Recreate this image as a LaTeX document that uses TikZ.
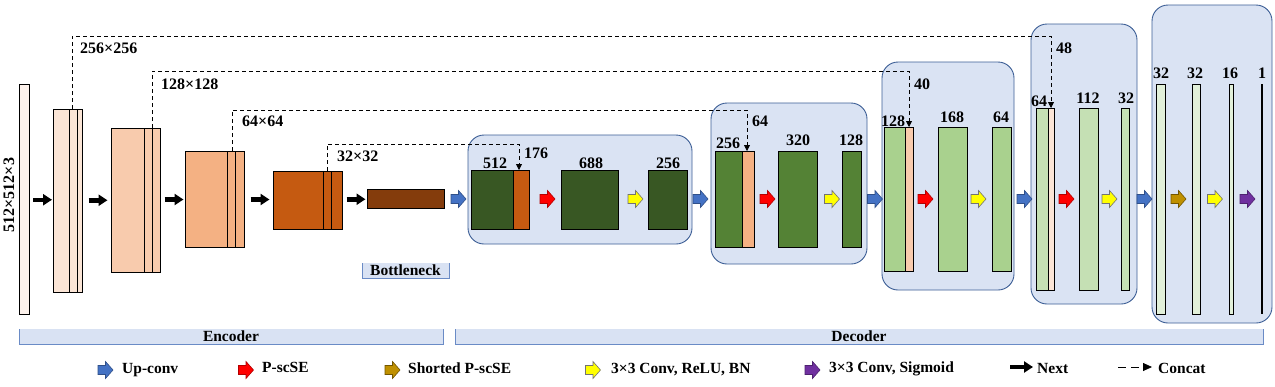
\documentclass[tikz,border=0pt]{standalone}
\usepackage{fontspec}
\setmainfont{Liberation Serif}
\usetikzlibrary{arrows.meta,calc}
\definecolor{encA}{HTML}{FDF2EC}
\definecolor{encB}{HTML}{FBE5D6}
\definecolor{encC}{HTML}{F8CBAD}
\definecolor{encD}{HTML}{F4B183}
\definecolor{encE}{HTML}{C55A11}
\definecolor{encF}{HTML}{843C0C}
\definecolor{decA}{HTML}{385723}
\definecolor{decB}{HTML}{548235}
\definecolor{decC}{HTML}{A9D18E}
\definecolor{decD}{HTML}{C5E0B4}
\definecolor{decE}{HTML}{E2F0D9}
\definecolor{stagefill}{HTML}{DAE3F3}
\definecolor{stageline}{HTML}{3D5F96}
\definecolor{barfill}{HTML}{D9E2F3}
\definecolor{barline}{HTML}{6A8BC6}
\definecolor{upblue}{HTML}{4472C4}
\definecolor{psred}{HTML}{FF0000}
\definecolor{shbrown}{HTML}{BF9000}
\definecolor{cvyellow}{HTML}{FFFF00}
\definecolor{sgpurple}{HTML}{7030A0}
\newcommand{\blk}[6]{\node[blk,fill=#6,minimum width={#4-#2},minimum height={#5-#3}] (#1) at ({(#2+#4)/2},{(#3+#5)/2}) {};}
\newcommand{\barr}[4]{\coordinate (#1) at (#2,#3); \pic[#4] at (#1) {blockarrow};}
\tikzset{
  blk/.style={draw=black, line width=0.8pt, inner sep=0pt, outer sep=0pt},
  thinl/.style={draw=black, line width=0.8pt},
  stage/.style={draw=stageline, fill=stagefill, line width=0.9pt, rounded corners=16pt, inner sep=0pt, outer sep=0pt},
  bar/.style={fill=barfill, inner sep=0pt, outer sep=0pt, font=\fontsize{15.5}{18}\selectfont\bfseries},
  barside/.style={draw=barline, line width=0.9pt},
  blockarrow/.pic={\path[pic actions] (-7.5,-4.5) -- (0,-4.5) -- (0,-8.5) -- (7.5,0) -- (0,8.5) -- (0,4.5) -- (-7.5,4.5) -- cycle;},
  upc/.style={fill=upblue, draw=upblue!70!black, line width=0.6pt},
  psc/.style={fill=psred, draw=psred!70!black, line width=0.6pt},
  shb/.style={fill=shbrown, draw=shbrown!60!black, line width=0.6pt},
  cvy/.style={fill=cvyellow, draw=black!55, line width=0.6pt},
  sgp/.style={fill=sgpurple, draw=sgpurple!70!black, line width=0.6pt},
  nextarr/.style={line width=4.5pt, -{Triangle[width=11pt,length=9pt]}},
  concat/.style={dash pattern=on 4pt off 3pt, line width=0.8pt, -{Triangle[width=6pt,length=6pt]}},
  lab/.style={font=\fontsize{16}{19}\selectfont\bfseries, inner sep=0pt},
  leg/.style={font=\fontsize{15.5}{18}\selectfont\bfseries, inner sep=0pt, anchor=base west}
}
\begin{document}
\begin{tikzpicture}[x=1pt,y=-1pt]
\useasboundingbox (0,0) rectangle (1275,386);
\fill[white] (0,0) rectangle (1275,386);

% decoder stage boxes
\node[stage, minimum width=224, minimum height=109] (s1) at (580,189.5) {};
\node[stage, minimum width=156, minimum height=161] (s2) at (789,183.5) {};
\node[stage, minimum width=132, minimum height=228] (s3) at (948,176) {};
\node[stage, minimum width=106, minimum height=280] (s4) at (1084,164) {};
\node[stage, minimum width=120, minimum height=318] (s5) at (1212,164) {};

% encoder
\blk{in}{19}{84}{29}{314}{encA}
\blk{b1}{53}{109}{82}{292}{encB}
\blk{b2}{111}{128}{160}{272}{encC}
\blk{b3}{185}{151}{244}{247}{encD}
\blk{b4}{273}{171}{342}{229}{encE}
\blk{bn}{367}{189}{444}{208}{encF}
\draw[thinl] ($(b1.north east)+(-13,0)$) -- ($(b1.south east)+(-13,0)$);
\draw[thinl] ($(b1.north east)+(-5,0)$) -- ($(b1.south east)+(-5,0)$);
\draw[thinl] ($(b2.north east)+(-16,0)$) -- ($(b2.south east)+(-16,0)$);
\draw[thinl] ($(b2.north east)+(-8,0)$) -- ($(b2.south east)+(-8,0)$);
\draw[thinl] ($(b3.north east)+(-17,0)$) -- ($(b3.south east)+(-17,0)$);
\draw[thinl] ($(b3.north east)+(-9,0)$) -- ($(b3.south east)+(-9,0)$);
\draw[thinl] ($(b4.north east)+(-19,0)$) -- ($(b4.south east)+(-19,0)$);
\draw[thinl] ($(b4.north east)+(-11,0)$) -- ($(b4.south east)+(-11,0)$);

\node[lab, rotate=90] (inlab) at (9,195) {512×512×3};

% next arrows
\draw[nextarr] ($(in.east)!0.5!(b1.west)+(-8,0)$) -- ++(19,0);
\draw[nextarr] ($(b1.east)!0.5!(b2.west)+(-8,0)$) -- ++(19,0);
\draw[nextarr] ($(b2.east)!0.5!(b3.west)+(-8,0)$) -- ++(19,0);
\draw[nextarr] ($(b3.east)!0.5!(b4.west)+(-8,0)$) -- ++(19,0);
\draw[nextarr] ($(b4.east)!0.5!(bn.west)+(-8,0)$) -- ++(19,0);

% decoder stage 1
\blk{d1a}{471}{170}{513}{229}{decA}
\blk{d1c}{513}{170}{529}{229}{encE}
\blk{d1b}{561}{170}{618}{229}{decA}
\blk{d1d}{648}{170}{687}{229}{decA}
% stage 2
\blk{d2a}{715}{151}{742}{247}{decB}
\blk{d2c}{742}{151}{754}{247}{encD}
\blk{d2b}{778}{151}{817}{247}{decB}
\blk{d2d}{842}{151}{861}{247}{decB}
% stage 3
\blk{d3a}{884}{127}{905}{271}{decC}
\blk{d3c}{905}{127}{913}{271}{encC}
\blk{d3b}{938}{127}{967}{271}{decC}
\blk{d3d}{992}{127}{1011}{271}{decC}
% stage 4
\blk{d4a}{1036}{108}{1048}{290}{decD}
\blk{d4c}{1048}{108}{1054}{290}{encB}
\blk{d4b}{1079}{108}{1098}{290}{decD}
\blk{d4d}{1121}{108}{1129}{290}{decD}
% stage 5
\blk{d5a}{1156}{84}{1165}{314}{decE}
\blk{d5b}{1192}{84}{1200}{314}{decE}
\blk{d5c}{1229}{84}{1233}{314}{decE}
\node[fill=black, inner sep=0pt, minimum width=2, minimum height=230] (d5d) at (1262,199) {};

% concat dashed connectors
\draw[concat] ($(b1.north east)+(-10,0)$) -- ++(0,-73) -| (d4c.north);
\draw[concat] ($(b2.north east)+(-8,0)$) -- ++(0,-57) -| (d3c.north);
\draw[concat] ($(b3.north east)+(-12,0)$) -- ++(0,-41) -| ($(d2c.north)+(-1,0)$);
\draw[concat] ($(b4.north east)+(-15,0)$) -- ++(0,-27) -| ($(d1c.north)+(-2,0)$);

\node[lab, anchor=base west] (t256) at (80,53) {256×256};
\node[lab, anchor=base west] (t128) at (161,89) {128×128};
\node[lab, anchor=base west] (t64) at (242,126) {64×64};
\node[lab, anchor=base west] (t32) at (337,161) {32×32};

% block arrows
\barr{u1}{458.5}{199}{upc}
\barr{p1}{547.5}{199}{psc}
\barr{c1}{635.5}{199}{cvy}
\barr{u2}{700.5}{199}{upc}
\barr{p2}{767.5}{199}{psc}
\barr{c2}{832}{199}{cvy}
\barr{u3}{875}{199}{upc}
\barr{p3}{925.5}{199}{psc}
\barr{c3}{978.5}{199}{cvy}
\barr{u4}{1024.5}{199}{upc}
\barr{p4}{1066.5}{199}{psc}
\barr{c4}{1109.5}{199}{cvy}
\barr{u5}{1144.5}{199}{upc}
\barr{h5}{1178.5}{199}{shb}
\barr{c5}{1215}{199}{cvy}
\barr{g5}{1247.5}{199}{sgp}

% channel labels
\node[lab, anchor=base] (l512) at (495,168) {512};
\node[lab, anchor=base] (l176) at (536,158) {176};
\node[lab, anchor=base] (l688) at (591,168) {688};
\node[lab, anchor=base] (l256a) at (668,168) {256};
\node[lab, anchor=base] (l256b) at (728,148) {256};
\node[lab, anchor=base] (l64a) at (760,126) {64};
\node[lab, anchor=base] (l320) at (798,145) {320};
\node[lab, anchor=base] (l128a) at (851,145) {128};
\node[lab, anchor=base] (l128b) at (893,126) {128};
\node[lab, anchor=base] (l40) at (922,89) {40};
\node[lab, anchor=base] (l168) at (952,122) {168};
\node[lab, anchor=base] (l64b) at (1001,122) {64};
\node[lab, anchor=base] (l64c) at (1039,106) {64};
\node[lab, anchor=base] (l48) at (1064,53) {48};
\node[lab, anchor=base] (l112) at (1088,103) {112};
\node[lab, anchor=base] (l32a) at (1126,103) {32};
\node[lab, anchor=base] (l32b) at (1161,78) {32};
\node[lab, anchor=base] (l32c) at (1195,78) {32};
\node[lab, anchor=base] (l16) at (1230,78) {16};
\node[lab, anchor=base] (l1) at (1262,78) {1};

% bottleneck tag and bars
\node[bar, minimum width=87, minimum height=15] (bnl) at (405.5,270.5) {Bottleneck};
\draw[barside] (bnl.north west) -- (bnl.south west) -- (bnl.south east) -- (bnl.north east);
\node[bar, minimum width=424, minimum height=15] (enc) at (231,336.5) {Encoder};
\draw[barside] (enc.north west) -- (enc.south west) -- (enc.south east) -- (enc.north east);
\node[bar, minimum width=808, minimum height=15] (dec) at (859,336.5) {Decoder};
\draw[barside] (dec.north west) -- (dec.south west) -- (dec.south east) -- (dec.north east);

% legend
\barr{lgu}{105.5}{370}{upc}
\node[leg] (lgut) at (122,373) {Up-conv};
\barr{lgp}{246}{370}{psc}
\node[leg] (lgpt) at (262,372) {P-scSE};
\barr{lgs}{392.5}{370}{shb}
\node[leg] (lgst) at (408,373) {Shorted P-scSE};
\barr{lgc}{593}{370}{cvy}
\node[leg] (lgct) at (611,373) {3×3 Conv, ReLU, BN};
\barr{lgg}{812.5}{370}{sgp}
\node[leg] (lggt) at (829,372) {3×3 Conv, Sigmoid};
\coordinate (lgn1) at (1010,367);
\coordinate (lgn2) at (1033,367);
\draw[nextarr] (lgn1) -- (lgn2);
\node[leg] (lgnt) at (1037,373) {Next};
\coordinate (lgd1) at (1118,367);
\coordinate (lgd2) at (1152,367);
\draw[line width=0.8pt, dash pattern=on 8pt off 5pt, -{Triangle[width=8pt,length=9pt]}] (lgd1) -- (lgd2);
\node[leg] (lgdt) at (1158,373) {Concat};
\end{tikzpicture}
\end{document}
